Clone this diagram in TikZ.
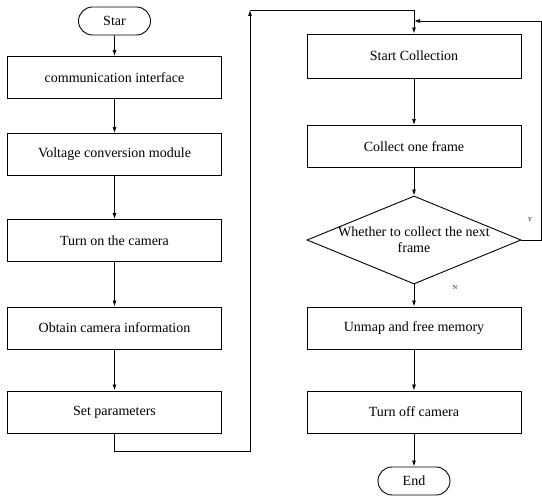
\documentclass[tikz,border=0pt]{standalone}
\usepackage{fontspec}
\setmainfont{Liberation Serif}
\usetikzlibrary{shapes.geometric,shapes.misc,arrows.meta}
\begin{document}
\begin{tikzpicture}[x=1pt,y=1pt,line width=0.9pt,
  font=\fontsize{14}{16}\selectfont,
  process/.style={draw,rectangle,minimum width=214pt,minimum height=42pt,inner sep=0pt},
  terminal/.style={draw,rounded rectangle,minimum width=72pt,minimum height=28pt,inner sep=0pt},
  decision/.style={draw,diamond,minimum width=214pt,minimum height=88pt,inner sep=0pt},
  flow/.style={-{Latex[length=6pt,width=4pt]}},
  tag/.style={font=\fontsize{6}{7}\selectfont}]
\useasboundingbox (0,0) rectangle (542,496);
% left column
\node[terminal] (star) at (114.5,475) {Star};
\node[process] (comm) at (114.5,418.5) {communication interface};
\node[process] (volt) at (114.5,341.5) {Voltage conversion module};
\node[process] (camon) at (114.5,255.5) {Turn on the camera};
\node[process] (info) at (114.5,168) {Obtain camera information};
\node[process] (param) at (114.5,84) {Set parameters};
% right column
\node[process,minimum height=44pt] (collect) at (414,440) {Start Collection};
\node[process] (frame) at (414,349.5) {Collect one frame};
\node[decision] (next) at (414,256) {};
\node[align=center] (nexttext) at (next) {Whether to collect the next\\frame};
\node[process] (unmap) at (414,168) {Unmap and free memory};
\node[process] (camoff) at (414,84) {Turn off camera};
\node[terminal] (finish) at (414,15) {End};
\node[tag] (yes) at (530,276) {Y};
\node[tag] (no) at (455,208) {N};
% loop points
\coordinate (loopa) at (250,45);
\coordinate (loopb) at (250,486);
\coordinate (back) at (541.5,475);
\draw[flow] (star) -- (comm);
\draw[flow] (comm) -- (volt);
\draw[flow] (volt) -- (camon);
\draw[flow] (camon) -- (info);
\draw[flow] (info) -- (param);
\draw[flow] (param.south) |- (loopa) -- (loopb);
\draw[flow] (loopb) -| (collect.north);
\draw[flow] (collect) -- (frame);
\draw[flow] (frame) -- (next);
\draw[flow] (next.east) -| (back) -- (collect.north |- back);
\draw[flow] (next) -- (unmap);
\draw[flow] (unmap) -- (camoff);
\draw[flow] (camoff) -- (finish);
\end{tikzpicture}
\end{document}
